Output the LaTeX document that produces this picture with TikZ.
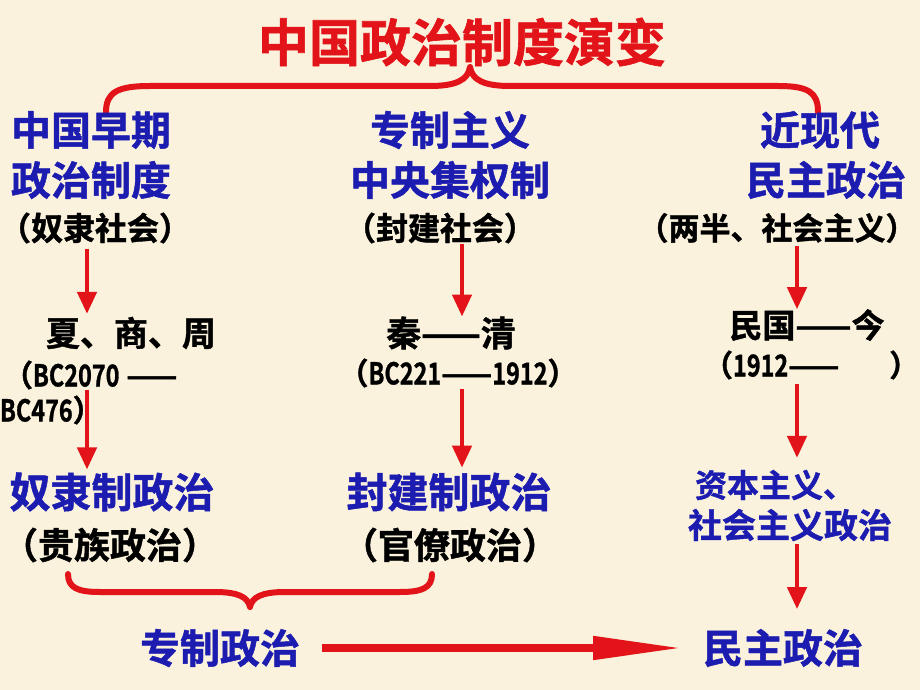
\documentclass[tikz,border=0pt]{standalone}
\usepackage{fontspec}
\setmainfont{Noto Sans CJK SC}[BoldFont={Noto Sans CJK SC Bold}, BoldFeatures={FakeBold=1.2}]
\usetikzlibrary{arrows.meta}
\definecolor{bgc}{HTML}{FAF2DC}
\definecolor{tred}{HTML}{E2141A}
\definecolor{tblue}{HTML}{1C1CB0}
\newcommand{\fs}[1]{\fontsize{#1}{#1}\selectfont\bfseries}
\newcommand{\lat}[1]{\scalebox{0.78}[1]{#1}}
\tikzset{
  every node/.style={inner sep=0pt, outer sep=0pt},
  ttl/.style={font=\fs{51}, text=tred},
  bt/.style={font=\fs{40}, text=tblue},
  kt/.style={font=\fs{32}, text=black},
  varrow/.style={draw=tred, line width=4.5pt, -{Triangle[width=19pt,length=22pt]}},
  harrow/.style={draw=tred, line width=8pt, -{Triangle[width=22pt,length=90pt]}},
  bracep/.style={draw=tred, line width=6pt, line cap=round, line join=round},
}
\begin{document}
\begin{tikzpicture}[x=1pt,y=-1pt]
\fill[bgc] (0,0) rectangle (920,690);
\useasboundingbox (0,0) rectangle (920,690);

% title and top brace
\node[ttl] (title) at (462,42) {中国政治制度演变};
\draw[bracep] (106,112) .. controls (106,92) and (118,86) .. (150,86) -- (430,86)
  .. controls (456,86) and (468,80) .. (470,67)
  .. controls (472,80) and (484,86) .. (510,86) -- (778,86)
  .. controls (808,86) and (818,92) .. (818,112);

% column headings
\node[bt] (h1a) at (91,130) {中国早期};
\node[bt] (h1b) at (91,180) {政治制度};
\node[kt] (h1c) at (95,228) {（奴隶社会）};
\node[bt] (h2a) at (450,130) {专制主义};
\node[bt] (h2b) at (450,180) {中央集权制};
\node[kt] (h2c) at (440,228) {（封建社会）};
\node[bt] (h3a) at (820,130) {近现代};
\node[bt] (h3b) at (826,180) {民主政治};
\node[kt, font=\fs{31}] (h3c) at (777,228) {（两半、社会主义）};

% periods
\node[font=\fs{34}] (p1a) at (131,333) {夏、商、周};
\node[font=\fs{30}, anchor=west] (p1b) at (3,375) {（\lat{BC2070} ——};
\node[font=\fs{30}, anchor=west] (p1c) at (0,410) {\lat{BC476}）};
\node[font=\fs{35}] (p2a) at (451,333) {秦——清};
\node[font=\fs{30}] (p2b) at (458,373) {（\lat{BC221}——\lat{1912}）};
\node[font=\fs{33}] (p3a) at (807,325) {民国——今};
\node[font=\fs{30}, anchor=west] (p3b) at (703,365) {（\lat{1912}——\hspace{50pt}）};

% political systems
\node[bt, font=\fs{41}] (s1a) at (112,492) {奴隶制政治};
\node[font=\fs{36}] (s1b) at (110,545) {（贵族政治）};
\node[bt, font=\fs{41}] (s2a) at (449,492) {封建制政治};
\node[font=\fs{36}] (s2b) at (450,545) {（官僚政治）};
\node[bt, font=\fs{32}] (s3a) at (775,485) {资本主义、};
\node[bt, font=\fs{34}] (s3b) at (790,525) {社会主义政治};

% bottom
\node[bt] (z1) at (220,648) {专制政治};
\node[bt] (z2) at (783,648) {民主政治};

% arrow columns
\coordinate (a1) at (87,0);
\coordinate (a2) at (462,0);
\coordinate (a3) at (797,0);
\draw[varrow] ([yshift=-6pt]h1c.south -| a1) -- ([yshift=3pt]p1a.north -| a1);
\draw[varrow] ([yshift=-1pt]p1b.south -| a1) -- ([yshift=3pt]s1a.north -| a1);
\draw[varrow] ([yshift=-1pt]h2c.south -| a2) -- ([yshift=0pt]p2a.north -| a2);
\draw[varrow] ([yshift=-2pt]p2b.south -| a2) -- ([yshift=5pt]s2a.north -| a2);
\draw[varrow] ([yshift=-3pt]h3c.south -| a3) -- ([yshift=0pt]p3a.north -| a3);
\draw[varrow] ([yshift=-5pt]p3b.south -| a3) -- ([yshift=12pt]s3a.north -| a3);
\draw[varrow] ([yshift=-3pt]s3b.south -| a3) -- ([yshift=20pt]z2.north -| a3);

% bottom brace
\draw[bracep] (68,574) .. controls (68,588) and (78,592) .. (100,592) -- (215,592)
  .. controls (238,592) and (248,597) .. (250,607)
  .. controls (252,597) and (262,592) .. (285,592) -- (400,592)
  .. controls (422,592) and (432,588) .. (432,574);

\draw[harrow] ([xshift=22pt]z1.east) -- ([xshift=-20pt]z2.west);
\end{tikzpicture}
\end{document}
